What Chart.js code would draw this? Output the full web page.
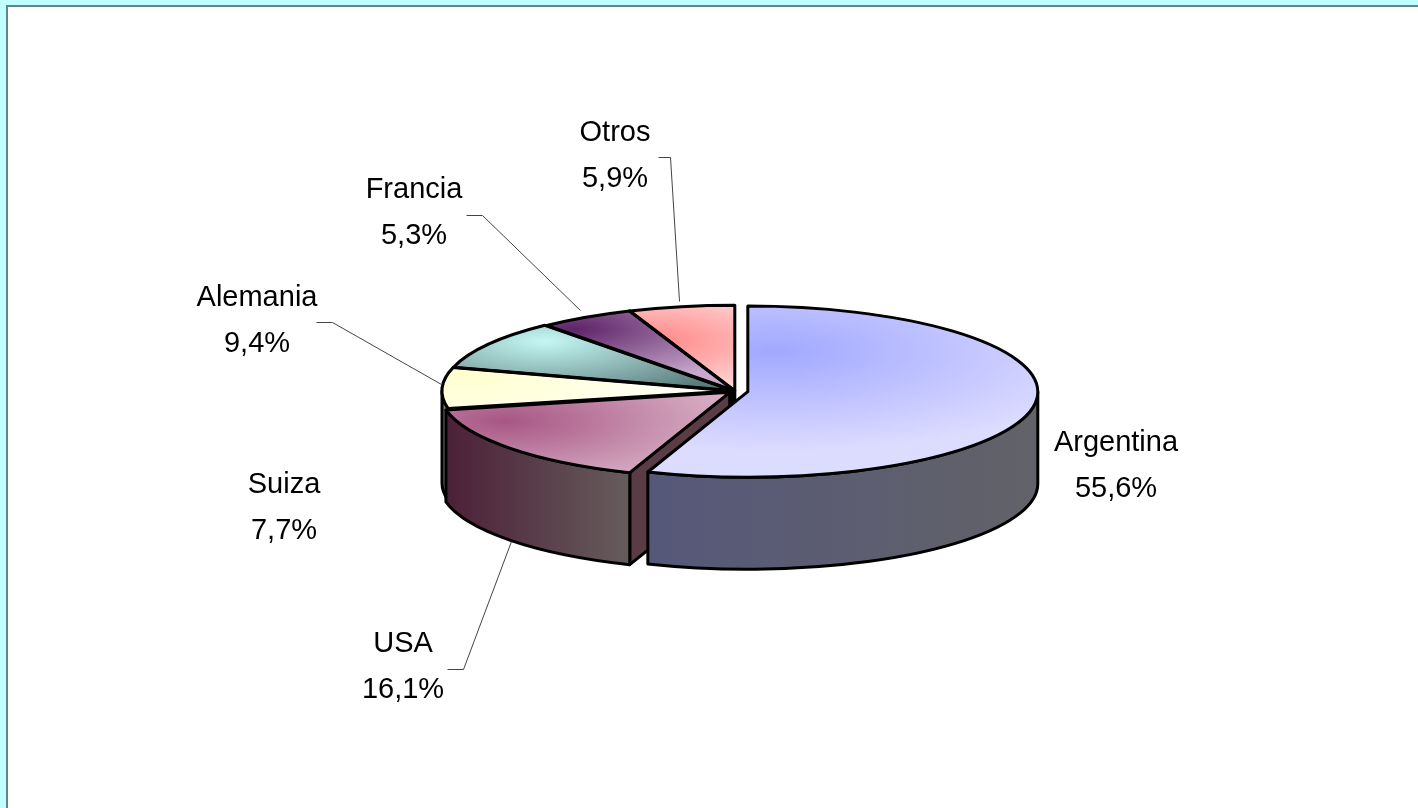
<!DOCTYPE html>
<html lang="es">
<head>
<meta charset="utf-8">
<title>Gráfico</title>
<script src="https://cdn.jsdelivr.net/npm/chart.js@4"></script>
<style>
html,body{margin:0;padding:0;background:#c0ffff;width:1418px;height:808px;overflow:hidden}
#sheet{position:absolute;left:6px;top:5px;right:0;bottom:0;background:#fff;border-left:2px solid #5f8585;border-top:2px solid #5f8585}
canvas{position:absolute;left:0;top:0}
</style>
</head>
<body>
<div id="sheet"></div>
<canvas id="c" width="1418" height="808"></canvas>
<script>
// Data
const categories = ['Argentina', 'USA', 'Suiza', 'Alemania', 'Francia', 'Otros'];
const shares = [55.6, 16.1, 7.7, 9.4, 5.3, 5.9];

// Styles
const explode = [13, 7, 3, 3, 1, 1];
const topFrom = ['#a2a8ff', '#a85684', '#ffffd0', '#c4f8f4', '#5e2468', '#ff8484'];
const topTo = ['#dcdcff', '#e2c4d4', '#ffffff', '#5c7c7c', '#c8a8cc', '#ffd4d4'];
const topSpot = [[40, -40, 340], [-230, 30, 280], [-270, -15, 280], [-190, -50, 210], [-160, -62, 190], [-90, -50, 170]];
const wallFrom = ['#56587a', '#4c2038', '#7c7c70', '#4a6060', '#4a2050', '#804848'];
const wallTo = ['#626268', '#665c5c', '#7c7c70', '#4a6060', '#4a2050', '#804848'];
const faceColor = ['#56587a', '#5a3c46', '#7c7c70', '#4a6060', '#4a2050', '#804848'];
const squash = 0.295;
const depth = 92;
const centerX = 735;
const centerY = 391;
const pieRadius = 290;

// Annotation layout: label centre, two text lines, leader polyline
const labelX = [1116, 403, 284, 257, 414, 615];
const labelY = [443, 644, 485, 298, 190, 133];
const lineGap = 46;
const leaders = [
  null,
  [[447, 669], [463, 669], [511, 541]],
  null,
  [[316, 322], [332, 322], [441, 384]],
  [[466, 215], [482, 215], [580, 310]],
  [[658, 157], [670, 157], [679, 301]]
];

function sy(y) { return centerY + squash * (y - centerY); }

const pseudo3D = {
  id: 'pseudo3D',
  afterDatasetsUpdate(chart) {
    chart.getDatasetMeta(0).data.forEach((arc, i) => {
      const mid = (arc.startAngle + arc.endAngle) / 2;
      arc.x += explode[i] * Math.cos(mid);
      arc.y += explode[i] * Math.sin(mid);
    });
  },
  beforeDatasetsDraw(chart) {
    const ctx = chart.ctx;
    const arcs = chart.getDatasetMeta(0).data;
    ctx.save();
    ctx.lineWidth = 3;
    ctx.strokeStyle = '#000';
    ctx.lineJoin = 'round';
    for (let i = arcs.length - 1; i >= 0; i--) {
      const arc = arcs[i];
      const x = arc.x, y = sy(arc.y), r = arc.outerRadius;
      const a = arc.startAngle, b = arc.endAngle;
      const face = (t) => {
        const px = x + r * Math.cos(t), py = y + squash * r * Math.sin(t);
        ctx.beginPath();
        ctx.moveTo(x, y);
        ctx.lineTo(px, py);
        ctx.lineTo(px, py + depth);
        ctx.lineTo(x, y + depth);
        ctx.closePath();
        ctx.fillStyle = faceColor[i];
        ctx.fill();
        ctx.stroke();
      };
      if (Math.cos(a) < -1e-6) face(a);
      if (Math.cos(b) > 1e-6) face(b);
      const t0 = Math.max(a, 0), t1 = Math.min(b, Math.PI);
      if (t1 > t0) {
        const g = ctx.createLinearGradient(x + r * Math.cos(t1), 0, x + r * Math.cos(t0), 0);
        g.addColorStop(0, wallFrom[i]);
        g.addColorStop(1, wallTo[i]);
        ctx.beginPath();
        ctx.ellipse(x, y, r, squash * r, 0, t0, t1);
        ctx.ellipse(x, y + depth, r, squash * r, 0, t1, t0, true);
        ctx.closePath();
        ctx.fillStyle = g;
        ctx.fill();
        ctx.stroke();
      }
    }
    ctx.restore();
    // Squash the library's own arcs into the tilted disc
    ctx.save();
    ctx.translate(centerX, centerY);
    ctx.scale(1, squash);
    ctx.translate(-centerX, -centerY);
  },
  afterDatasetsDraw(chart) {
    const ctx = chart.ctx;
    ctx.restore();
    const arcs = chart.getDatasetMeta(0).data;
    ctx.save();
    ctx.lineWidth = 3;
    ctx.strokeStyle = '#000';
    ctx.lineJoin = 'round';
    arcs.forEach((arc) => {
      const x = arc.x, y = sy(arc.y), r = arc.outerRadius;
      ctx.beginPath();
      ctx.moveTo(x, y);
      ctx.ellipse(x, y, r, squash * r, 0, arc.startAngle, arc.endAngle);
      ctx.closePath();
      ctx.stroke();
    });
    ctx.restore();
  },
  afterDraw(chart) {
    const ctx = chart.ctx;
    ctx.save();
    ctx.strokeStyle = '#444';
    ctx.lineWidth = 1;
    leaders.forEach((pts) => {
      if (!pts) return;
      ctx.beginPath();
      pts.forEach((p, j) => j ? ctx.lineTo(p[0] + 0.5, p[1] + 0.5) : ctx.moveTo(p[0] + 0.5, p[1] + 0.5));
      ctx.stroke();
    });
    ctx.fillStyle = '#000';
    ctx.font = '29px "Liberation Sans", Arial, sans-serif';
    ctx.textAlign = 'center';
    ctx.textBaseline = 'middle';
    categories.forEach((name, i) => {
      ctx.fillText(name, labelX[i], labelY[i]);
      ctx.fillText(shares[i].toFixed(1).replace('.', ',') + '%', labelX[i], labelY[i] + lineGap);
    });
    ctx.restore();
  }
};

new Chart(document.getElementById('c'), {
  type: 'pie',
  plugins: [pseudo3D],
  data: {
    labels: categories,
    datasets: [{
      data: shares,
      clip: false,
      borderWidth: 0,
      backgroundColor(c) {
        const i = c.dataIndex;
        const s = topSpot[i];
        if (i === undefined || !s) return '#ccc';
        const px = centerX + s[0], py = centerY + s[1] / squash;
        const g = c.chart.ctx.createRadialGradient(px, py, 0, px, py, s[2]);
        g.addColorStop(0, topFrom[i]);
        g.addColorStop(1, topTo[i]);
        return g;
      }
    }]
  },
  options: {
    responsive: false,
    animation: false,
    events: [],
    radius: pieRadius,
    layout: { padding: { left: 52, right: 0, top: 0, bottom: 26 } },
    plugins: { legend: { display: false }, tooltip: { enabled: false } }
  }
});
</script>
</body>
</html>
